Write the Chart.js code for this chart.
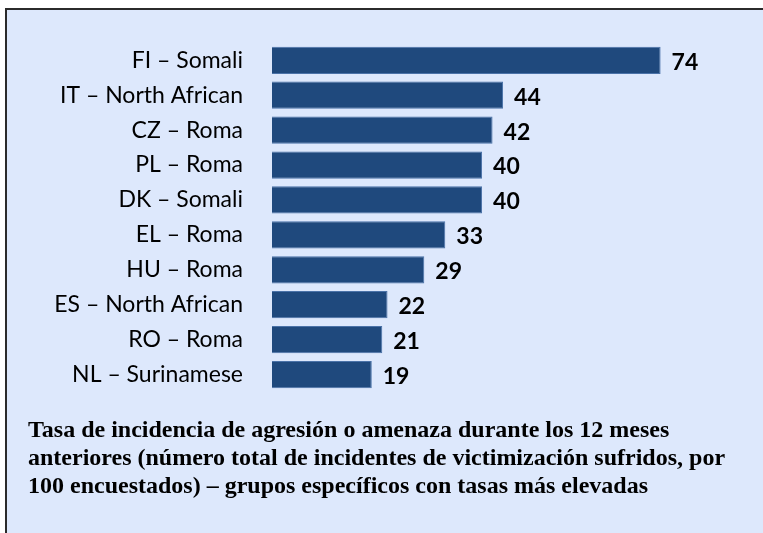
<!DOCTYPE html>
<html>
<head>
<meta charset="utf-8">
<script src="https://cdn.jsdelivr.net/npm/chart.js@4.4.0/dist/chart.umd.min.js"></script>
<style>
  html, body { margin: 0; padding: 0; background: #ffffff; width: 763px; height: 533px; overflow: hidden; }
  #box { position: absolute; left: 5px; top: 8px; width: 800px; height: 600px; background: #dde8fc; border: 2px solid #2b2b2b; box-sizing: border-box; }
  #wrap { position: absolute; left: 0; top: 0; width: 763px; height: 533px; }
  #caption { position: absolute; left: 28px; top: 415px; width: 735px; white-space: nowrap; font-family: "Liberation Serif", "Times New Roman", serif; font-weight: bold; font-size: 24px; line-height: 28px; color: #000; }
</style>
</head>
<body>
<div id="box"></div>
<div id="wrap"><canvas id="c" width="763" height="533"></canvas></div>
<div id="caption">Tasa de incidencia de agresión o amenaza durante los 12 meses<br>anteriores (número total de incidentes de victimización sufridos, por<br>100 encuestados) – grupos específicos con tasas más elevadas</div>
<script>
const categories = ["FI – Somali", "IT – North African", "CZ – Roma", "PL – Roma", "DK – Somali", "EL – Roma", "HU – Roma", "ES – North African", "RO – Roma", "NL – Surinamese"];
const values = [74, 44, 42, 40, 40, 33, 29, 22, 21, 19];

const valueLabels = {
  id: 'valueLabels',
  afterDatasetsDraw(chart) {
    const ctx = chart.ctx;
    const meta = chart.getDatasetMeta(0);
    ctx.save();
    ctx.font = 'bold 23px Lato, "Open Sans", sans-serif';
    ctx.fillStyle = '#000';
    ctx.textAlign = 'left';
    ctx.textBaseline = 'middle';
    meta.data.forEach((bar, i) => {
      ctx.fillText(String(values[i]), bar.x + 11, bar.y + 2);
    });
    ctx.restore();
  }
};

new Chart(document.getElementById('c'), {
  type: 'bar',
  data: {
    labels: categories,
    datasets: [{
      data: values,
      backgroundColor: '#1f497d',
      borderColor: '#4a72a8',
      borderWidth: 1,
      barPercentage: 0.78,
      categoryPercentage: 1.0
    }]
  },
  options: {
    indexAxis: 'y',
    responsive: false,
    animation: false,
    layout: { padding: { top: 42, bottom: 141, left: 0, right: 0 } },
    plugins: { legend: { display: false }, tooltip: { enabled: false } },
    scales: {
      x: {
        display: false,
        min: 0,
        max: 93.5
      },
      y: {
        grid: { display: false, drawTicks: false },
        border: { display: false },
        ticks: {
          color: '#000',
          padding: 29,
          font: { family: 'Lato, "Open Sans", sans-serif', size: 23 }
        },
        afterFit(scale) { scale.width = 272; }
      }
    }
  },
  plugins: [valueLabels]
});
</script>
</body>
</html>
